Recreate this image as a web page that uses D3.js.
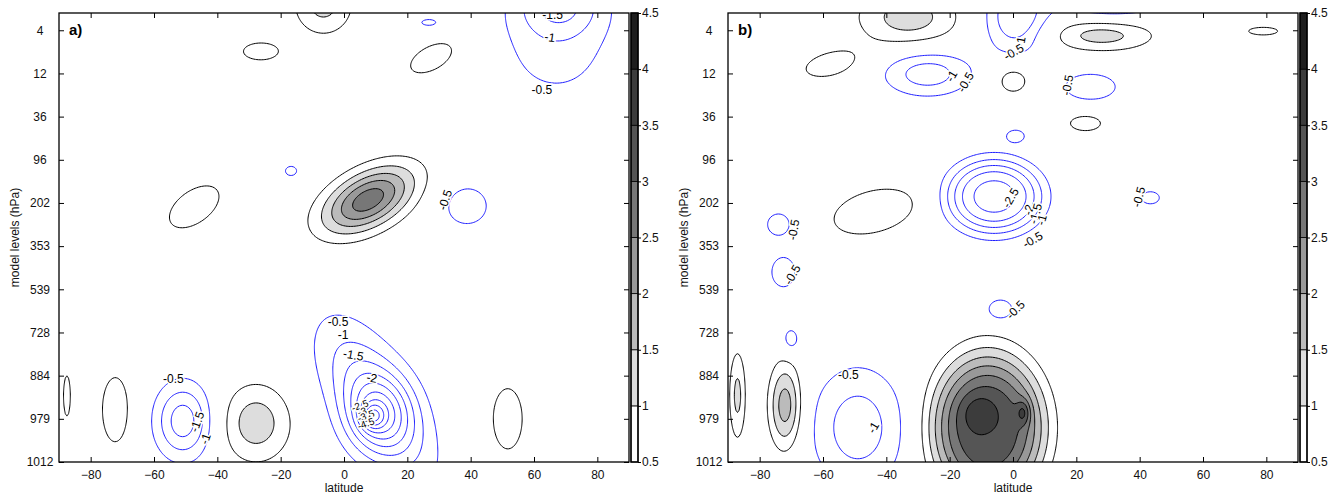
<!DOCTYPE html>
<html><head><meta charset="utf-8">
<script src="https://cdn.jsdelivr.net/npm/d3@7"></script>
<style>
body{margin:0;background:#fff;}
text{font-family:"Liberation Sans",Arial,Helvetica,sans-serif;}
</style></head><body>
<svg id="chart" width="1341" height="495"></svg>
<script>
// ---------------- data ----------------
const levelLabels = ["4","12","36","96","202","353","539","728","884","979","1012"];
const latTicks = [-80,-60,-40,-20,0,20,40,60,80];
const posLevels = [0.5,1,1.5,2,2.5,3,3.5,4,4.5];
const negLevels = [-0.5,-1,-1.5,-2,-2.5,-3,-3.5,-4,-4.5,-5];
const bandColors = ["#ffffff","#dddddd","#bbbbbb","#999999","#777777","#555555","#3c3c3c","#1e1e1e","#1e1e1e"];

// anomaly centres:
// [latitude, level index, amplitude, width in latitude, width in levels, tilt, flatness]
const blobsA = [
  [-6.5, -0.6, 1.18, 6.7, 0.51, 0, 1],
  [-26.3, 0.49, 0.8, 5.6, 0.2, 0, 1],
  [26.8, -0.18, -0.8, 2.3, 0.07, 0, 1],
  [27.8, 0.64, 0.8, 6, 0.36, -10, 1],
  [67, 0.4, -0.7, 14, 1.0, 0, 1],
  [68, -0.6, -1.3, 9.5, 0.5, 0, 1],
  [7.6, 3.93, 2.8, 9, 0.55, -9, 1],
  [-47.3, 4.09, 0.8, 7, 0.5, -8, 1],
  [-16.7, 3.26, -0.6, 3, 0.18, 0, 1],
  [38.8, 4.07, -0.8, 6.3, 0.42, 0, 1],
  [10, 8.6, -1.8, 9.5, 1.25, 6, 1],
  [11, 8.9, -1.8, 7, 0.6, 0, 1],
  [9, 8.95, -1.4, 2.5, 0.2, 0, 1],
  [-87.5, 8.47, 0.8, 1.1, 0.48, 0, 1],
  [-72.2, 8.79, 0.8, 4.2, 0.77, 0, 1],
  [-50.8, 9.05, -1.8, 6.3, 0.62, 0, 1],
  [-27.8, 9.1, 1.3, 7.9, 0.65, 0, 1],
  [51.7, 9.0, 0.8, 4.7, 0.72, 0, 1]
];
const blobsB = [
  [-33, -0.3, 1.25, 11.5, 0.48, 0, 1],
  [-57.6, 0.79, 0.8, 7.4, 0.29, -10, 1],
  [-27, 1.0, -1.3, 10, 0.38, 0, 1],
  [1, -0.3, -1.5, 7, 0.6, 0, 1],
  [0, 1.15, 0.85, 4.5, 0.28, 0, 1],
  [28, 0.12, 1.2, 12, 0.27, 0, 1],
  [79, 0.02, 0.8, 4.7, 0.09, 0, 1],
  [24.5, 1.31, -0.8, 8, 0.3, 0, 1],
  [22.9, 2.15, 0.8, 5, 0.18, 0, 1],
  [0.8, 2.45, -0.85, 2.6, 0.13, 0, 1],
  [-6, 3.85, -2.7, 12, 0.68, 0, 1.5],
  [-44, 4.2, 1.0, 10, 0.44, -8, 1],
  [-74, 4.5, -0.95, 3.1, 0.22, 0, 1],
  [-72.5, 5.6, -0.95, 3.2, 0.3, 0, 1],
  [-70.2, 7.17, -0.8, 2.3, 0.25, 0, 1],
  [-4, 6.47, -1.0, 3.2, 0.19, 0, 1],
  [-87, 8.46, 1.15, 1.9, 0.75, 0, 1],
  [-71.9, 8.7, 1.85, 3.6, 0.7, 0, 1],
  [-49, 9.2, -1.3, 10.5, 1.0, 0, 1],
  [-8, 9.2, 3.4, 14.5, 1.4, 0, 1.6],
  [-11, 8.85, 0.5, 4, 0.3, 0, 1],
  [3.3, 8.85, 1.0, 1.5, 0.2, 0, 1],
  [43.4, 3.88, -0.7, 3.4, 0.17, 0, 1],
  [31, -0.75, -1.5, 11, 0.3, 0, 1]
];
// contour labels: [text, latitude, level index, angle]
const labelsA = [
  ["-1.5", 65.9, -0.35, 0], ["-1", 65, 0.16, 8], ["-0.5", 62.5, 1.38, 0],
  ["-0.5", 31.9, 3.93, -72],
  ["-0.5", -1.9, 6.75, 0], ["-1", -0.3, 7.05, 0], ["-1.5", 3.0, 7.52, 10], ["-2", 8.8, 8.05, 10],
  ["-2.5", 5.0, 8.69, -20], ["-3", 5.7, 8.83, -20], ["-3.5", 6.9, 8.93, -20], ["-4", 7.6, 9.02, -20], ["-4.5", 6.9, 9.11, -20],
  ["-0.5", -53.9, 8.07, 0], ["-1.5", -46.4, 9.07, -70], ["-1", -43.8, 9.46, -70]
];
const labelsB = [
  ["-1", -19.4, 1.06, -60], ["-0.5", -15, 1.2, -60],
  ["-1", 2.4, 0.27, -80], ["-0.5", 0.2, 0.5, -30],
  ["-0.5", 17.2, 1.27, -80],
  ["-2.5", -0.8, 3.88, -60], ["-2", 4.9, 4.16, -75], ["-1.5", 7.1, 4.25, -75], ["-1", 9, 4.39, -75], ["-0.5", 6.2, 4.85, -30],
  ["-0.5", 39.7, 3.86, -75],
  ["-0.5", -69.3, 4.62, -80], ["-0.5", -69.7, 5.66, -60],
  ["-0.5", 0.8, 6.47, -45],
  ["-0.5", -52, 7.98, 0], ["-1", -44.1, 9.2, -60]
];

// ---------------- layout ----------------
const svg = d3.select("#chart");
const yTop = 13, yBot = 462;
const panels = [
  {name:"a)", blobs:blobsA, labels:labelsA, x0:59, x1:629, cb:631},
  {name:"b)", blobs:blobsB, labels:labelsB, x0:728, x1:1298, cb:1300}
];
const levelScale = d3.scaleLinear().domain([-0.4, 10]).range([yTop, yBot]);
const cbScale = d3.scaleLinear().domain([0.5, 4.5]).range([yBot, yTop]);

const latMin=-96, latMax=96, dLat=0.5, Lmin=-2.0, Lmax=11.5, dL=0.025;
const nx = Math.round((latMax-latMin)/dLat)+1, ny = Math.round((Lmax-Lmin)/dL)+1;

function computeGrid(blobs){
  const v = new Float64Array(nx*ny);
  for (let j=0;j<ny;j++){
    const L = Lmin + j*dL;
    for (let i=0;i<nx;i++){
      const lat = latMin + i*dLat;
      let s = 0;
      for (const [la, le, A, sx, sy, k, p] of blobs){
        const dy = (L-le)/sy;
        if (Math.abs(dy) > 7) continue;
        const dx = (lat - la - k*(L-le))/sx;
        const r2 = dx*dx + dy*dy;
        s += A*Math.exp(-0.5*Math.pow(r2, p));
      }
      v[j*nx+i] = s;
    }
  }
  return v;
}
function ringsOf(contours){
  const out = [];
  contours.forEach((c, ci) => c.coordinates.forEach(poly => poly.forEach(ring => {
    out.push({type:"LineString", coordinates: ring, level: ci});
  })));
  return out;
}

const defs = svg.append("defs");
const later = [];

panels.forEach((p, pi) => {
  const x = d3.scaleLinear().domain([-90, 90]).range([p.x0, p.x1]);
  const clipId = "plotclip" + pi;
  defs.append("clipPath").attr("id", clipId).append("rect")
    .attr("x", p.x0).attr("y", yTop).attr("width", p.x1-p.x0).attr("height", yBot-yTop);

  const values = computeGrid(p.blobs);
  const negValues = values.map(v => -v);
  const proj = d3.geoTransform({point(gx, gy){
    this.stream.point(x(latMin + (gx-0.5)*dLat), levelScale(Lmin + (gy-0.5)*dL));
  }});
  const path = d3.geoPath(proj);
  const pos = d3.contours().size([nx, ny]).thresholds(posLevels)(values);
  const neg = d3.contours().size([nx, ny]).thresholds(negLevels.map(v => -v))(negValues);

  // shaded bands
  const fillG = svg.append("g").attr("clip-path", `url(#${clipId})`);
  pos.forEach((c, i) => {
    if (i === 0) return;
    c.coordinates.forEach(poly => {
      fillG.append("path").attr("d", path({type:"Polygon", coordinates: poly}))
        .attr("fill", bandColors[i]).attr("stroke", "none");
    });
  });

  // axes (inward ticks)
  const fmt = d3.format("d");
  const ax = svg.append("g");
  ax.append("g").attr("transform", `translate(0,${yBot})`)
    .call(d3.axisBottom(x).tickValues(latTicks).tickFormat(fmt).tickSizeInner(-5).tickSizeOuter(0).tickPadding(8));
  ax.append("g").attr("transform", `translate(0,${yTop})`)
    .call(d3.axisTop(x).tickValues(latTicks).tickFormat("").tickSizeInner(-5).tickSizeOuter(0));
  const left = ax.append("g").attr("transform", `translate(${p.x0},0)`)
    .call(d3.axisLeft(levelScale).tickValues(d3.range(levelLabels.length)).tickFormat(i => levelLabels[i]).tickSizeInner(-5).tickSizeOuter(0));
  left.selectAll(".tick text").attr("x", -19).attr("text-anchor", "middle");
  ax.append("g").attr("transform", `translate(${p.x1},0)`)
    .call(d3.axisRight(levelScale).tickValues(d3.range(levelLabels.length)).tickFormat("").tickSizeInner(-5).tickSizeOuter(0));
  ax.selectAll(".domain").remove();
  ax.selectAll("text").attr("font-family", '"Liberation Sans",Arial,sans-serif').attr("font-size", 12).attr("fill", "#111");
  ax.selectAll(".tick line").attr("stroke", "#000");

  svg.append("text").attr("x", (p.x0+p.x1)/2).attr("y", 492).attr("text-anchor", "middle")
    .attr("font-size", 12).attr("fill", "#111").text("latitude");
  svg.append("text").attr("transform", `translate(${p.x0-40},${(yTop+yBot)/2}) rotate(-90)`)
    .attr("text-anchor", "middle").attr("font-size", 12).attr("fill", "#111").text("model levels (hPa)");

  // colour bar
  const cbW = 7;
  const cbg = svg.append("g");
  cbg.selectAll("rect.band").data(posLevels.slice(0, -1)).join("rect").attr("class","band")
    .attr("x", p.cb).attr("width", cbW)
    .attr("y", (d,i) => cbScale(posLevels[i+1])).attr("height", (d,i) => cbScale(posLevels[i]) - cbScale(posLevels[i+1]))
    .attr("fill", (d,i) => bandColors[i]).attr("stroke", "#000").attr("stroke-width", 0.8);
  cbg.append("rect").attr("x", p.cb).attr("y", yTop).attr("width", cbW).attr("height", yBot-yTop)
    .attr("fill", "none").attr("stroke", "#000").attr("stroke-width", 1.5);
  const cba = cbg.append("g").attr("transform", `translate(${p.cb+cbW},0)`)
    .call(d3.axisRight(cbScale).tickValues(posLevels).tickFormat(d => String(d)).tickSizeInner(3).tickSizeOuter(0).tickPadding(1));
  cba.select(".domain").remove();
  cba.selectAll("text").attr("font-family", '"Liberation Sans",Arial,sans-serif').attr("font-size", 12).attr("fill", "#111");

  later.push({p, pi, x, path, pos, neg, clipId});
});

// contour lines and labels drawn last, on top of everything
later.forEach(({p, pi, x, path, pos, neg, clipId}) => {
  const lg = svg.append("g").attr("clip-path", `url(#${clipId})`);
  lg.append("g").selectAll("path").data(ringsOf(neg)).join("path")
    .attr("d", path).attr("fill", "none").attr("stroke", "#1f1fff").attr("stroke-width", 1);
  lg.append("g").selectAll("path").data(ringsOf(pos)).join("path")
    .attr("d", path).attr("fill", "none").attr("stroke", "#000").attr("stroke-width", 1);
  lg.append("g").selectAll("text").data(p.labels).join("text")
    .attr("transform", d => `translate(${x(d[1])},${levelScale(d[2])}) rotate(${d[3]})`)
    .attr("text-anchor", "middle").attr("dy", "0.35em")
    .attr("font-size", d => (pi===0 && d[2]>8.6 && d[1]>0) ? 10 : 12)
    .attr("fill", "#000").attr("stroke", "#fff").attr("stroke-width", 3)
    .attr("paint-order", "stroke").text(d => d[0]);

  svg.append("rect").attr("x", p.x0).attr("y", yTop).attr("width", p.x1-p.x0).attr("height", yBot-yTop)
    .attr("fill", "none").attr("stroke", "#000").attr("stroke-width", 1.3);
  svg.append("text").attr("x", p.x0+10).attr("y", 35).attr("font-size", 15).attr("font-weight", "bold")
    .attr("fill", "#000").text(p.name);
});
</script>
</body></html>
